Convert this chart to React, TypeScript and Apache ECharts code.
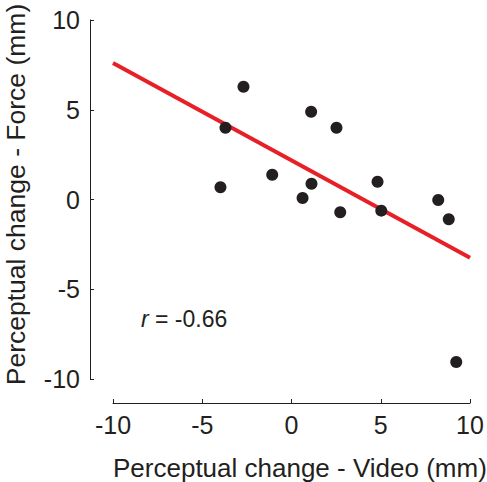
import React, { useEffect, useRef } from "react";
import * as echarts from "echarts";

const videoChange = [-2.69, -3.7, -3.98, 1.1, 2.52, -1.08, 1.12, 0.62, 2.73, 4.82, 5.03, 8.22, 8.81, 9.23];
const forceChange = [6.28, 4.0, 0.68, 4.89, 4.0, 1.38, 0.88, 0.08, -0.71, 0.99, -0.62, -0.03, -1.1, -9.05];
const fitX = [-10, 10];
const fitY = [7.6, -3.25];
const xTicks = [-10, -5, 0, 5, 10];
const yTicks = [-10, -5, 0, 5, 10];
const rLabel = "-0.66";

const INK = "#231f20";
const FONT = "'Liberation Sans', Arial, Helvetica, sans-serif";

export default function App() {
  const ref = useRef<HTMLDivElement>(null);
  useEffect(() => {
    if (!ref.current) return;
    const chart = echarts.init(ref.current, null, { renderer: "svg" });
    const points = videoChange.map((x, i) => [x, forceChange[i]]);
    const fit = fitX.map((x, i) => [x, fitY[i]]);
    chart.setOption({
      animation: false,
      backgroundColor: "#ffffff",
      textStyle: { fontFamily: FONT },
      grid: { left: 113, right: 17, top: 20, bottom: 103, containLabel: false },
      xAxis: {
        type: "value",
        min: xTicks[0],
        max: xTicks[xTicks.length - 1],
        interval: 5,
        offset: 24,
        axisLine: { show: true, onZero: false, lineStyle: { color: INK, width: 1 } },
        axisTick: { show: true, inside: true, length: 4, lineStyle: { color: INK } },
        axisLabel: { color: INK, fontSize: 25, fontFamily: FONT, margin: 9 },
        splitLine: { show: false },
      },
      yAxis: {
        type: "value",
        min: yTicks[0],
        max: yTicks[yTicks.length - 1],
        interval: 5,
        offset: 23,
        axisLine: { show: true, onZero: false, lineStyle: { color: INK, width: 1 } },
        axisTick: { show: true, inside: true, length: 4, lineStyle: { color: INK } },
        axisLabel: { color: INK, fontSize: 25, fontFamily: FONT, margin: 10 },
        splitLine: { show: false },
      },
      series: [
        {
          type: "line",
          data: fit,
          symbol: "none",
          lineStyle: { color: "#e81f27", width: 4 },
          z: 2,
        },
        {
          type: "scatter",
          data: points,
          symbol: "circle",
          symbolSize: 12,
          itemStyle: { color: INK, opacity: 1 },
          z: 3,
        },
      ],
      graphic: [
        {
          type: "text",
          x: 113,
          y: 468,
          style: {
            text: "Perceptual change - Video (mm)",
            fill: INK,
            font: `26px ${FONT}`,
            textAlign: "left",
            textVerticalAlign: "middle",
          },
        },
        {
          type: "text",
          x: 16,
          y: 194.5,
          rotation: Math.PI / 2,
          style: {
            text: "Perceptual change - Force (mm)",
            fill: INK,
            font: `26.5px ${FONT}`,
            textAlign: "center",
            textVerticalAlign: "middle",
          },
        },
        {
          type: "text",
          x: 141,
          y: 319,
          style: {
            text: "{i|r} = " + rLabel,
            fill: INK,
            font: `23px ${FONT}`,
            textAlign: "left",
            textVerticalAlign: "middle",
            rich: {
              i: { fontStyle: "italic", fontSize: 23, fontFamily: FONT, fill: INK },
            },
          },
        },
      ],
    });
    return () => chart.dispose();
  }, []);
  return (
    <div
      ref={ref}
      style={{ position: "fixed", left: 0, top: 0, width: 487, height: 482 }}
    />
  );
}
